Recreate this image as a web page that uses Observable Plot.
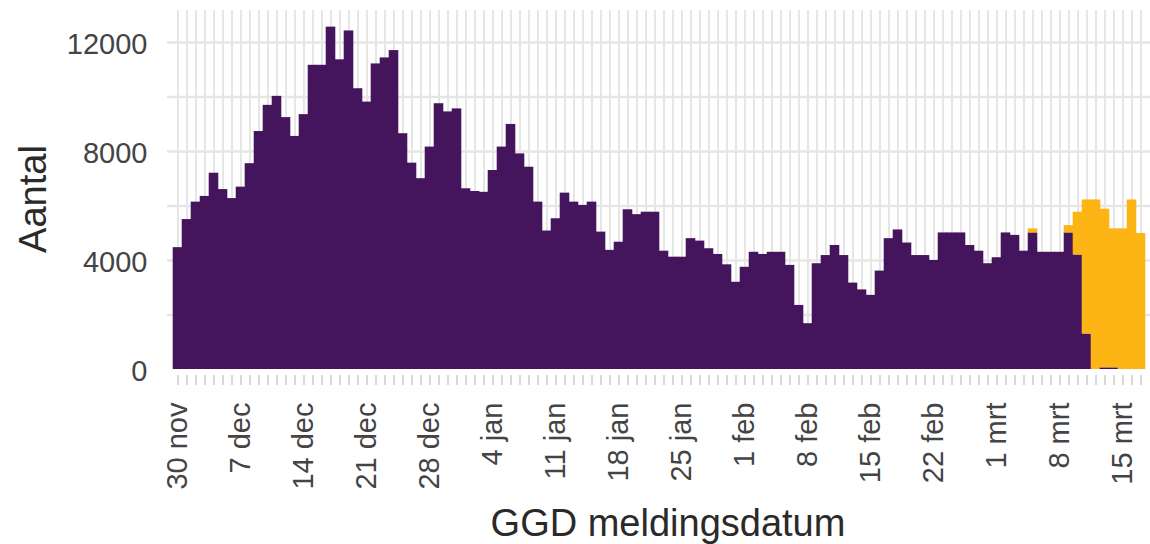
<!DOCTYPE html>
<html>
<head>
<meta charset="utf-8">
<script src="https://cdn.jsdelivr.net/npm/d3@7"></script>
<script src="https://cdn.jsdelivr.net/npm/@observablehq/plot@0.6"></script>
<style>
  html, body { margin: 0; padding: 0; background: #fff; }
  svg { display: block; }
</style>
</head>
<body>
<div id="chart"></div>
<script>
// ---- data ----
const startDate = "2020-11-30";
const dayCount = 108;

// daily reported cases (purple)
const gemeld = [
  4470, 5500, 6140, 6350, 7200, 6600, 6270, 6690, 7550, 8730,
  9690, 10020, 9240, 8550, 9350, 11160, 11160, 12560, 11360, 12420,
  10300, 9810, 11210, 11430, 11700, 8650, 7570, 7000, 8160, 9750,
  9450, 9560, 6630, 6530, 6500, 7300, 8160, 8990, 7910, 7420,
  6140, 5080, 5530, 6470, 6140, 6020, 6140, 5040, 4370, 4670,
  5860, 5680, 5770, 5770, 4340, 4120, 4120, 4800, 4710, 4430,
  4220, 3840, 3200, 3750, 4300, 4220, 4300, 4300, 3820, 2350,
  1680, 3880, 4180, 4550, 4180, 3170, 2920, 2720, 3610, 4800,
  5120, 4640, 4180, 4180, 4000, 5010, 5010, 5010, 4550, 4340,
  3880, 4100, 5010, 4920, 4340, 5010, 4300, 4300, 4300, 5010,
  4200, 1300, 0, 60, 60, 0, 0, 0
];

// additional / still expected (orange), stacked on top
const verwacht = [
  0, 0, 0, 0, 0, 0, 0, 0, 0, 0,
  0, 0, 0, 0, 0, 0, 0, 0, 0, 0,
  0, 0, 0, 0, 0, 0, 0, 0, 0, 0,
  0, 0, 0, 0, 0, 0, 0, 0, 0, 0,
  0, 0, 0, 0, 0, 0, 0, 0, 0, 0,
  0, 0, 0, 0, 0, 0, 0, 0, 0, 0,
  0, 0, 0, 0, 0, 0, 0, 0, 0, 0,
  0, 0, 0, 0, 0, 0, 0, 0, 0, 0,
  0, 0, 0, 0, 0, 0, 0, 0, 0, 0,
  0, 0, 0, 0, 0, 150, 0, 0, 0, 270,
  1570, 4920, 6220, 5820, 5100, 5160, 6220, 4990
];

const series = ["Gemeld", "Nog te verwachten"];
const seriesColors = ["#44145c", "#fdb515"];

const tickDates = [
  "2020-11-30", "2020-12-07", "2020-12-14", "2020-12-21", "2020-12-28",
  "2021-01-04", "2021-01-11", "2021-01-18", "2021-01-25",
  "2021-02-01", "2021-02-08", "2021-02-15", "2021-02-22",
  "2021-03-01", "2021-03-08", "2021-03-15"
];
const tickLabels = [
  "30 nov", "7 dec", "14 dec", "21 dec", "28 dec",
  "4 jan", "11 jan", "18 jan", "25 jan",
  "1 feb", "8 feb", "15 feb", "22 feb",
  "1 mrt", "8 mrt", "15 mrt"
];
const yTicks = [0, 4000, 8000, 12000];
const yGrid = [2000, 4000, 6000, 8000, 10000, 12000];

const xTitle = "GGD meldingsdatum";
const yTitle = "Aantal";

// ---- build table ----
const start = new Date(startDate);
const dates = d3.utcDay.range(start, d3.utcDay.offset(start, dayCount));
const rows = [];
dates.forEach((d, i) => {
  rows.push({datum: d, reeks: series[0], aantal: gemeld[i]});
  rows.push({datum: d, reeks: series[1], aantal: verwacht[i]});
});
const labelDates = tickDates.map(s => new Date(s));
const labelMap = new Map(labelDates.map((d, i) => [+d, tickLabels[i]]));

const font = "'Liberation Sans', Arial, Helvetica, sans-serif";

const chart = Plot.plot({
  width: 1150,
  height: 544,
  marginTop: 10,
  marginBottom: 175,
  marginLeft: 167,
  marginRight: 0,
  style: {fontFamily: font, background: "#ffffff"},
  x: {type: "band", domain: dates, padding: 0, axis: null, label: null},
  y: {domain: [0, 13170], axis: null, label: null},
  color: {domain: series, range: seriesColors},
  marks: [
    Plot.gridY(yGrid, {stroke: "#e6e6e6", strokeOpacity: 1, strokeWidth: 2.5}),
    Plot.gridX(dates, {stroke: "#e6e6e6", strokeOpacity: 1, strokeWidth: 2}),
    Plot.barY(rows, {x: "datum", y: "aantal", fill: "reeks", insetLeft: -0.3, insetRight: -0.3}),
    Plot.axisX(dates, {tickSize: 10, tickFormat: () => "", stroke: "#dadada", strokeWidth: 2, dy: 6, label: null}),
    Plot.axisX(labelDates, {
      tickSize: 0, tickPadding: 33, tickRotate: -90,
      tickFormat: d => labelMap.get(+d),
      fontSize: 29, fill: "#444", label: null
    }),
    Plot.axisY(yTicks, {tickSize: 0, tickPadding: 20, fontSize: 29, fill: "#444", dy: 2, tickFormat: d3.format("d"), label: null}),
    Plot.text([yTitle], {frameAnchor: "left", textAnchor: "middle", lineAnchor: "middle", dx: -134, dy: 9, rotate: -90, fontSize: 38, fill: "#2a2a2a"}),
    Plot.text([xTitle], {frameAnchor: "bottom", textAnchor: "middle", lineAnchor: "middle", dx: 9, dy: 154, fontSize: 38, fill: "#2a2a2a"})
  ]
});

document.getElementById("chart").appendChild(chart);
</script>
</body>
</html>
